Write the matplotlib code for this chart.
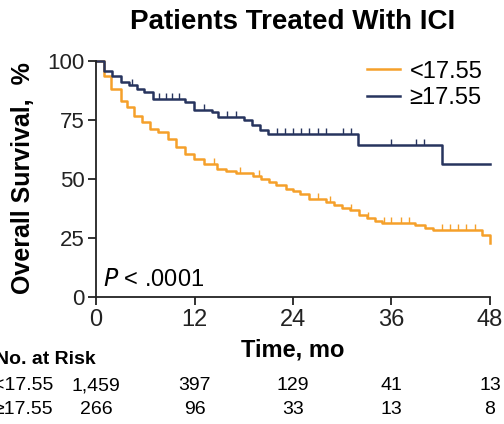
import numpy as np
import matplotlib
matplotlib.use("Agg")
from matplotlib import pyplot as plt
from matplotlib import transforms

plt.rcParams['font.family'] = ['Liberation Sans', 'DejaVu Sans']

# Kaplan-Meier steps (time in months, survival in %)
low_times = [0, 1.0, 1.8, 3.0, 3.8, 4.6, 5.6, 6.6, 7.6, 8.8, 9.8, 10.8, 11.9, 13.2,
             14.8, 15.8, 17.1, 19.1, 20.1, 21.1, 21.9, 23.1, 24.0, 24.8, 26.0, 28.0,
             29.0, 30.0, 31.0, 32.0, 33.0, 34.0, 34.8, 38.9, 40.1, 41.1, 47.0, 48.0]
low_surv = [100, 93.7, 88, 83, 80.3, 76.8, 74, 71.2, 69.8, 67, 63.4, 60.6, 58.5, 56.4,
            54.3, 53.3, 52.4, 51, 50, 48.6, 47.2, 45.8, 45.0, 43.5, 41.3, 40.2,
            39.1, 37.8, 37.0, 34.9, 33.6, 32.2, 31.4, 30.4, 29.2, 28.3, 26.2, 22.7]
low_censor = [14.4, 17.6, 19.9, 27.0, 28.5, 31.1, 33.1, 35.1, 36.0, 37.1, 38.1,
              42.1, 43.1, 44.1, 45.1, 46.2]

high_times = [0, 1.0, 2.0, 3.0, 4.0, 5.0, 5.9, 6.9, 10.9, 11.9, 14.1, 14.9, 18.0,
              19.0, 20.0, 21.0, 31.9, 42.1, 48.0]
high_surv = [100, 95.8, 93.7, 90.9, 89.7, 88, 86.6, 83.8, 82.4, 79.2, 78.2, 76.1,
             74.7, 72.6, 70.5, 69.1, 64.4, 56.4, 56.4]
high_censor = [4.4, 7.7, 8.5, 9.3, 10.1, 13.2, 16.0, 17.1, 22.1, 23.0, 24.0, 25.0,
               26.0, 27.0, 28.0, 30.1, 31.1, 36.0, 39.0, 40.0]

x_ticks = [0, 12, 24, 36, 48]
y_ticks = [0, 25, 50, 75, 100]
risk_low = ['1,459', '397', '129', '41', '13']
risk_high = ['266', '96', '33', '13', '8']

orange = '#F5A02A'
navy = '#27345E'


def surv_at(times, surv, t):
    idx = np.searchsorted(times, t, side='right') - 1
    return surv[idx]


fig = plt.figure(figsize=(5.04, 4.24), dpi=100)
ax = fig.add_axes([96 / 504, 1 - 297 / 424, 394 / 504, 236.3 / 424])

tick_marker = [(0, 0), (0, 1)]

ax.step(low_times, low_surv, where='post', color=orange, lw=1.8, clip_on=False,
        label='<17.55')
ax.plot(low_censor, [surv_at(low_times, low_surv, t) for t in low_censor],
        ls='none', marker=tick_marker, ms=9, mew=1.0, color=orange, clip_on=False)

ax.step(high_times, high_surv, where='post', color=navy, lw=1.8, clip_on=False,
        label='\u226517.55')
ax.plot(high_censor, [surv_at(high_times, high_surv, t) for t in high_censor],
        ls='none', marker=tick_marker, ms=9, mew=1.0, color=navy, clip_on=False)

ax.set_xlim(0, 48)
ax.set_ylim(0, 100)
ax.set_xticks(x_ticks)
ax.set_yticks(y_ticks)
ax.tick_params(axis='x', labelsize=17, length=6, width=1.3, pad=3, colors='#222222')
ax.tick_params(axis='y', labelsize=16, length=6, width=1.3, pad=2, colors='#222222')
for side in ['top', 'right']:
    ax.spines[side].set_visible(False)
for side in ['left', 'bottom']:
    ax.spines[side].set_linewidth(1.3)
    ax.spines[side].set_color('#222222')

ax.set_title('Patients Treated With ICI', fontsize=20, fontweight='bold', pad=23)
ax.set_xlabel('Time, mo', fontsize=17, fontweight='bold', labelpad=5)
fig.text(23 / 504, 1 - 178 / 424, 'Overall Survival,  %', rotation=90, fontsize=18,
         fontweight='bold', ha='center', va='center')

ax.text(0.018, 0.025, r'$\it{P}$ < .0001', transform=ax.transAxes, fontsize=17,
        ha='left', va='bottom')

leg = ax.legend(loc='upper right', bbox_to_anchor=(1.035, 1.09), frameon=False,
                fontsize=17, handlelength=1.4, handletextpad=0.4, labelspacing=0.2)

# number at risk table
trans = transforms.blended_transform_factory(ax.transData, fig.transFigure)
fig.text(-5 / 504, 1 - 359 / 424, 'No. at Risk', fontsize=14, fontweight='bold',
         ha='left', va='center')
fig.text(53 / 504, 1 - 386 / 424, '<17.55', fontsize=14, ha='right', va='center')
fig.text(53 / 504, 1 - 410 / 424, '\u226517.55', fontsize=14, ha='right', va='center')
for t, a, b in zip(x_ticks, risk_low, risk_high):
    ax.text(t, 1 - 386 / 424, a, transform=trans, fontsize=14, ha='center', va='center',
            clip_on=False)
    ax.text(t, 1 - 410 / 424, b, transform=trans, fontsize=14, ha='center', va='center',
            clip_on=False)

fig.savefig('out.png', dpi=100)
